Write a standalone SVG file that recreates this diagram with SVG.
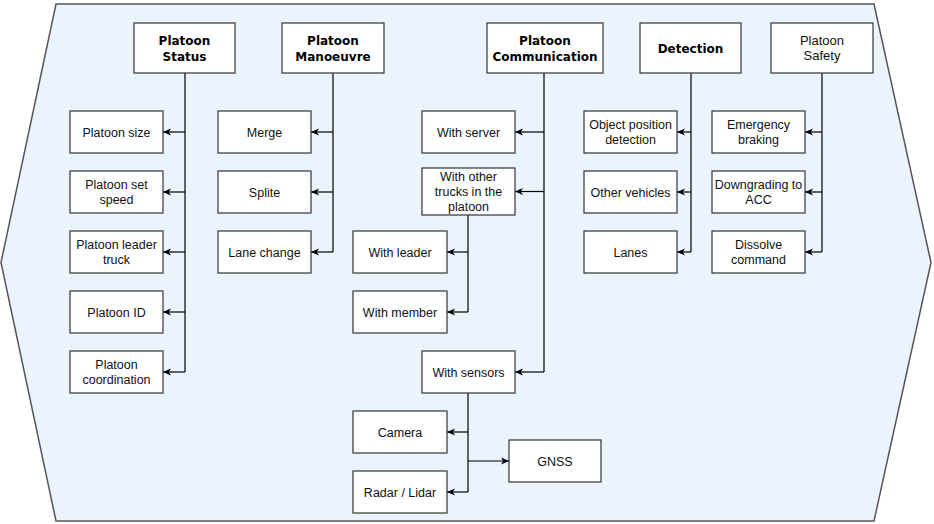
<svg xmlns="http://www.w3.org/2000/svg" width="934" height="524" viewBox="0 0 934 524">
<defs>
<marker id="arr" viewBox="0 0 8 8" refX="8" refY="4" markerWidth="8" markerHeight="8" markerUnits="userSpaceOnUse" orient="auto">
<path d="M0,0.5 L8,4 L0,7.5 L2.2,4 Z" fill="#000"/>
</marker>
<style>
.bg{fill:#ebf3fe;stroke:#555;stroke-width:1.5}
.box{fill:#fff;stroke:#333;stroke-width:1.2}
.t{font-family:"Liberation Sans",Arial,sans-serif;font-size:12.5px;fill:#111;text-anchor:middle}
.h{font-family:"DejaVu Sans",Verdana,sans-serif;font-size:12px;font-weight:bold;fill:#000;text-anchor:middle}
.hr{font-family:"Liberation Sans",Arial,sans-serif;font-size:13px;fill:#111;text-anchor:middle}
.ln{fill:none;stroke:#000;stroke-width:1.2}
.ar{fill:none;stroke:#000;stroke-width:1.2;marker-end:url(#arr)}
</style>
</defs>
<polygon class="bg" points="56,4 874,4 931,262.5 874,521 56,521 1,262.5"/>

<g id="connectors">
<path class="ln" d="M185,73 V372"/>
<path class="ar" d="M185,132 H163"/>
<path class="ar" d="M185,192 H163"/>
<path class="ar" d="M185,252 H163"/>
<path class="ar" d="M185,312 H163"/>
<path class="ar" d="M185,372 H163"/>
<path class="ln" d="M333,73 V252"/>
<path class="ar" d="M333,132 H311"/>
<path class="ar" d="M333,192 H311"/>
<path class="ar" d="M333,252 H311"/>
<path class="ln" d="M544,73 V372"/>
<path class="ar" d="M544,132 H515"/>
<path class="ar" d="M544,191.5 H515"/>
<path class="ar" d="M544,372 H515"/>
<path class="ln" d="M468,215 V312"/>
<path class="ar" d="M468,252 H447"/>
<path class="ar" d="M468,312 H447"/>
<path class="ln" d="M468,393 V492"/>
<path class="ar" d="M468,432 H447"/>
<path class="ar" d="M468,492 H447"/>
<path class="ar" d="M468,461 H509"/>
<path class="ln" d="M691,73 V252"/>
<path class="ar" d="M691,132 H677"/>
<path class="ar" d="M691,192 H677"/>
<path class="ar" d="M691,252 H677"/>
<path class="ln" d="M822,73 V252"/>
<path class="ar" d="M822,132 H805"/>
<path class="ar" d="M822,192 H805"/>
<path class="ar" d="M822,252 H805"/>
</g>

<g id="platoon-status"><rect class="box" x="134" y="23" width="101" height="50"/><text class="h" x="184.5" y="44.5">Platoon</text><text class="h" x="184.5" y="60.5">Status</text></g>
<g id="platoon-manoeuvre"><rect class="box" x="282" y="23" width="102" height="50"/><text class="h" x="333" y="44.5">Platoon</text><text class="h" x="333" y="60.5">Manoeuvre</text></g>
<g id="platoon-communication"><rect class="box" x="487" y="23" width="116" height="50"/><text class="h" x="545" y="44.5">Platoon</text><text class="h" x="545" y="60.5">Communication</text></g>
<g id="detection"><rect class="box" x="640" y="23" width="101" height="50"/><text class="h" x="690.5" y="52.5">Detection</text></g>
<g id="platoon-safety"><rect class="box" x="771" y="23" width="102" height="50"/><text class="hr" x="822" y="44.5">Platoon</text><text class="hr" x="822" y="60">Safety</text></g>

<g id="platoon-size"><rect class="box" x="70" y="111" width="93" height="42"/><text class="t" x="116.5" y="136.5">Platoon size</text></g>
<g id="platoon-set-speed"><rect class="box" x="70" y="171" width="93" height="42"/><text class="t" x="116.5" y="189">Platoon set</text><text class="t" x="116.5" y="204">speed</text></g>
<g id="platoon-leader-truck"><rect class="box" x="70" y="231" width="93" height="42"/><text class="t" x="116.5" y="249">Platoon leader</text><text class="t" x="116.5" y="264">truck</text></g>
<g id="platoon-id"><rect class="box" x="70" y="291" width="93" height="42"/><text class="t" x="116.5" y="316.5">Platoon ID</text></g>
<g id="platoon-coordination"><rect class="box" x="70" y="351" width="93" height="42"/><text class="t" x="116.5" y="369">Platoon</text><text class="t" x="116.5" y="384">coordination</text></g>

<g id="merge"><rect class="box" x="218" y="111" width="93" height="42"/><text class="t" x="264.5" y="136.5">Merge</text></g>
<g id="splite"><rect class="box" x="218" y="171" width="93" height="42"/><text class="t" x="264.5" y="196.5">Splite</text></g>
<g id="lane-change"><rect class="box" x="218" y="231" width="93" height="42"/><text class="t" x="264.5" y="256.5">Lane change</text></g>

<g id="with-server"><rect class="box" x="422" y="111" width="93" height="42"/><text class="t" x="468.5" y="136.5">With server</text></g>
<g id="with-other-trucks"><rect class="box" x="422" y="168" width="93" height="47"/><text class="t" x="468.5" y="181.2">With other</text><text class="t" x="468.5" y="195.7">trucks in the</text><text class="t" x="468.5" y="210.7">platoon</text></g>
<g id="with-leader"><rect class="box" x="353" y="231" width="94" height="42"/><text class="t" x="400" y="256.5">With leader</text></g>
<g id="with-member"><rect class="box" x="353" y="291" width="94" height="42"/><text class="t" x="400" y="316.5">With member</text></g>
<g id="with-sensors"><rect class="box" x="422" y="351" width="93" height="42"/><text class="t" x="468.5" y="376.5">With sensors</text></g>
<g id="camera"><rect class="box" x="353" y="411" width="94" height="42"/><text class="t" x="400" y="436.5">Camera</text></g>
<g id="radar-lidar"><rect class="box" x="353" y="471" width="94" height="42"/><text class="t" x="400" y="496.5">Radar / Lidar</text></g>
<g id="gnss"><rect class="box" x="509" y="440" width="92" height="42"/><text class="t" x="555" y="465.5">GNSS</text></g>

<g id="object-position-detection"><rect class="box" x="584" y="111" width="93" height="42"/><text class="t" x="630.5" y="129">Object position</text><text class="t" x="630.5" y="144">detection</text></g>
<g id="other-vehicles"><rect class="box" x="584" y="171" width="93" height="42"/><text class="t" x="630.5" y="196.5">Other vehicles</text></g>
<g id="lanes"><rect class="box" x="584" y="231" width="93" height="42"/><text class="t" x="630.5" y="256.5">Lanes</text></g>

<g id="emergency-braking"><rect class="box" x="712" y="111" width="93" height="42"/><text class="t" x="758.5" y="129">Emergency</text><text class="t" x="758.5" y="144">braking</text></g>
<g id="downgrading-to-acc"><rect class="box" x="712" y="171" width="93" height="42"/><text class="t" x="758.5" y="189">Downgrading to</text><text class="t" x="758.5" y="204">ACC</text></g>
<g id="dissolve-command"><rect class="box" x="712" y="231" width="93" height="42"/><text class="t" x="758.5" y="249">Dissolve</text><text class="t" x="758.5" y="264">command</text></g>
</svg>
